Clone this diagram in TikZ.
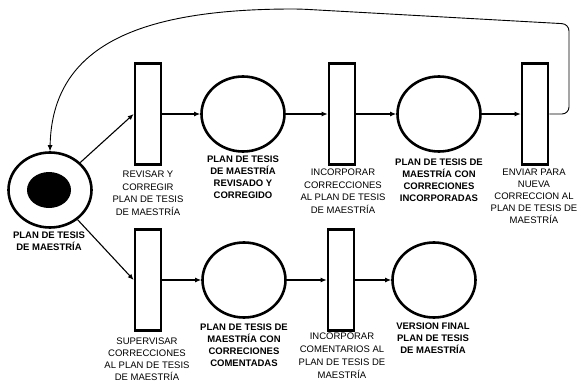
\documentclass[tikz,border=0pt]{standalone}
\usepackage{fontspec}
\setmainfont{Liberation Sans}
\usetikzlibrary{shapes.geometric,arrows.meta}

\begin{document}
\begin{tikzpicture}[x=1pt,y=-1pt,>={Latex[length=6pt,width=5pt]},
  place/.style={ellipse,draw,line width=2.6pt,minimum width=83pt,minimum height=75pt,inner sep=0pt},
  trans/.style={rectangle,draw,line width=2.6pt,minimum width=26pt,minimum height=101pt,inner sep=0pt},
  lbl/.style={align=center,anchor=north,inner sep=0pt,font=\fontsize{9.5}{12.5}\selectfont},
  blbl/.style={lbl,font=\fontsize{9.5}{12}\selectfont\bfseries},
  arc/.style={->,line width=1.1pt}]
  \useasboundingbox (0,0) rectangle (579,381);
  % row heights
  \def\yT{114}\def\yB{280}
  % start place with token
  \node[place] (start) at (50,190) {};
  \node[ellipse,fill,minimum width=44pt,minimum height=36pt,inner sep=0pt] (tok) at (49,190) {};
  % upper row
  \node[trans] (rev) at (148,\yT) {};
  \node[place] (pRev) at (243,\yT) {};
  \node[trans] (inc) at (342,\yT) {};
  \node[place] (pInc) at (439,\yT) {};
  \node[trans] (env) at (535,\yT) {};
  % lower row
  \node[trans] (sup) at (148,\yB) {};
  \node[place] (pCom) at (244,\yB) {};
  \node[trans] (com) at (341,\yB) {};
  \node[place] (pFin) at (434,\yB) {};
  % arcs
  \draw[arc] (start) -- (rev.west);
  \draw[arc] (start) -- (sup.west);
  \foreach \a/\b in {rev/pRev,pRev/inc,inc/pInc,pInc/env,sup/pCom,pCom/com,com/pFin}
    \draw[arc] (\a) -- (\b);
  % back to the start
  \draw[->,line width=0.9pt,rounded corners=7pt] (env.east) -- (569,\yT) -- (569,24) -- (300,9)
    .. controls (140,9) and (52,45) .. (start.north);
  % labels
  \node[blbl] (lStart) at (49,232) {PLAN DE TESIS\\DE MAESTRÍA};
  \node[lbl] (lRev) at (148,171) {REVISAR Y\\CORREGIR\\PLAN DE TESIS\\DE MAESTRÍA};
  \node[blbl] (lPRev) at (243,156) {PLAN DE TESIS\\DE MAESTRÍA\\REVISADO Y\\CORREGIDO};
  \node[lbl] (lInc) at (343,169) {INCORPORAR\\CORRECCIONES\\AL PLAN DE TESIS\\DE MAESTRÍA};
  \node[blbl] (lPInc) at (439,159) {PLAN DE TESIS DE\\MAESTRÍA CON\\CORRECIONES\\INCORPORADAS};
  \node[lbl,font=\fontsize{9.5}{12}\selectfont] (lEnv) at (534,169) {ENVIAR PARA\\NUEVA\\CORRECCION AL\\PLAN DE TESIS DE\\MAESTRÍA};
  \node[lbl,font=\fontsize{9.5}{11.8}\selectfont] (lSup) at (147,338) {SUPERVISAR\\CORRECCIONES\\AL PLAN DE TESIS\\DE MAESTRÍA};
  \node[blbl] (lPCom) at (244,324) {PLAN DE TESIS DE\\MAESTRÍA CON\\CORRECIONES\\COMENTADAS};
  \node[lbl,font=\fontsize{9.5}{13}\selectfont] (lCom) at (342,333) {INCORPORAR\\COMENTARIOS AL\\PLAN DE TESIS DE\\MAESTRÍA};
  \node[blbl] (lFin) at (433,323) {VERSION FINAL\\PLAN DE TESIS\\DE MAESTRÍA};
\end{tikzpicture}
\end{document}
